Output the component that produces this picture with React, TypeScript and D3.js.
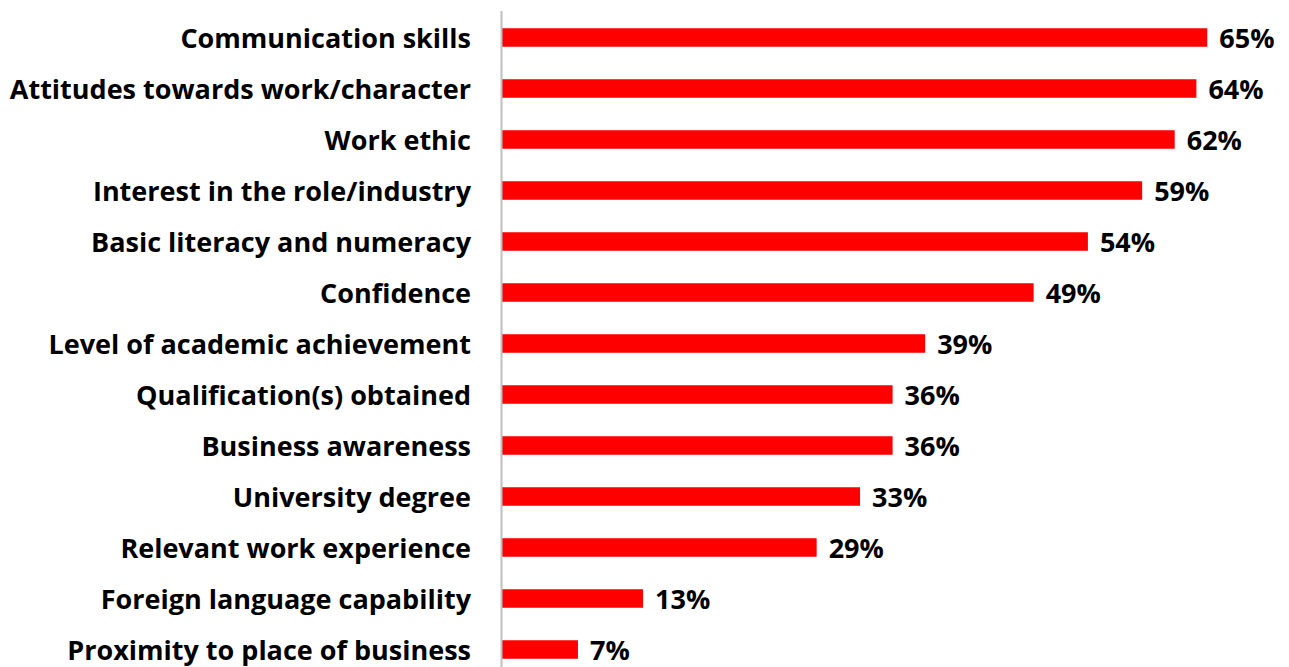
import { useEffect, useRef } from 'react';
import * as d3 from 'd3';

// Skills employers value, share of respondents (%)
const categories = [
  'Communication skills',
  'Attitudes towards work/character',
  'Work ethic',
  'Interest in the role/industry',
  'Basic literacy and numeracy',
  'Confidence',
  'Level of academic achievement',
  'Qualification(s) obtained',
  'Business awareness',
  'University degree',
  'Relevant work experience',
  'Foreign language capability',
  'Proximity to place of business',
];
const values = [65, 64, 62, 59, 54, 49, 39, 36, 36, 33, 29, 13, 7];

const WIDTH = 1289;
const HEIGHT = 667;
const FONT = '"Open Sans", Lato, sans-serif';

export default function App() {
  const svgRef = useRef<SVGSVGElement>(null);

  useEffect(() => {
    if (!svgRef.current) return;
    const svg = d3.select(svgRef.current);
    svg.selectAll('*').remove();

    const x = d3.scaleLinear().domain([0, 72]).range([502, 502 + 72 * 10.85]);
    const y = d3
      .scaleBand()
      .domain(categories)
      .range([12, 675])
      .paddingInner(0.637)
      .paddingOuter(0.3185);

    const rows = categories.map((c, i) => ({ c, v: values[i] }));

    // Bars
    svg
      .append('g')
      .selectAll('rect')
      .data(rows)
      .join('rect')
      .attr('x', x(0))
      .attr('y', (d) => y(d.c) ?? 0)
      .attr('width', (d) => x(d.v) - x(0))
      .attr('height', y.bandwidth())
      .attr('fill', '#ff0000');

    // Category axis (no ticks)
    const axis = svg
      .append('g')
      .attr('transform', `translate(${x(0)},0)`)
      .call(d3.axisLeft(y).tickSize(0).tickPadding(31));
    axis.select('.domain').remove();
    axis
      .selectAll('text')
      .attr('dy', '0.4em')
      .attr('font-family', FONT)
      .attr('font-weight', 700)
      .attr('font-size', 27)
      .attr('fill', '#000');

    svg
      .append('line')
      .attr('x1', x(0) - 0.5)
      .attr('x2', x(0) - 0.5)
      .attr('y1', 11)
      .attr('y2', HEIGHT)
      .attr('stroke', '#bfbfbf')
      .attr('stroke-width', 2);

    // Value labels
    svg
      .append('g')
      .selectAll('text')
      .data(rows)
      .join('text')
      .attr('x', (d) => x(d.v) + 12)
      .attr('y', (d) => (y(d.c) ?? 0) + y.bandwidth() / 2)
      .attr('dy', '0.4em')
      .attr('font-family', FONT)
      .attr('font-weight', 700)
      .attr('font-size', 27)
      .attr('fill', '#000')
      .text((d) => `${d.v}%`);
  }, []);

  return (
    <svg
      ref={svgRef}
      width={WIDTH}
      height={HEIGHT}
      style={{ position: 'absolute', left: 0, top: 0, background: '#fff' }}
    />
  );
}
